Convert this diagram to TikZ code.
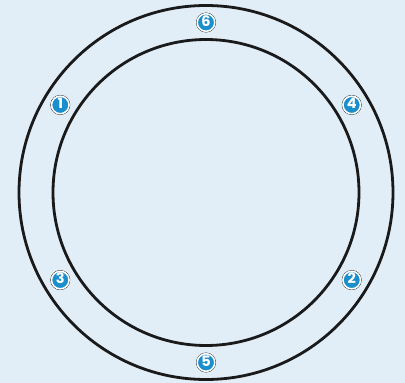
\documentclass[tikz,border=0pt]{standalone}
\usepackage{fontspec}
\setmainfont{Poppins}
\definecolor{bgblue}{HTML}{E1EEF8}
\definecolor{badgeblue}{HTML}{1A8FCB}
\definecolor{ringline}{HTML}{1A1A1A}
\begin{document}
\begin{tikzpicture}[x=1pt,y=-1pt,
  ring/.style={draw=ringline,line width=2.8pt},
  badge/.style={circle,fill=badgeblue,draw=white,line width=1.5pt,minimum size=17.5pt,inner sep=0pt,
    font=\fontsize{14.5}{14}\selectfont\bfseries,text=white,text height=0.7em,text depth=0pt,
    append after command={\pgfextra{\draw[ringline,line width=0.5pt] (\tikzlastnode.center) circle (9.7pt);}}}]
\fill[bgblue] (0,0) rectangle (405,383);
\useasboundingbox (0,0) rectangle (405,383);
\coordinate (c) at (206,192.5);
\draw[ring] (c) circle (187pt);
\draw[ring] (c) circle (153pt);
\node[badge] (b6) at ([shift={(90:170pt)}]c) {6};
\node[badge] (b1) at ([shift={(149:170pt)}]c) {1};
\node[badge] (b4) at ([shift={(31:170pt)}]c) {4};
\node[badge] (b3) at ([shift={(211:170pt)}]c) {3};
\node[badge] (b2) at ([shift={(329:170pt)}]c) {2};
\node[badge] (b5) at ([shift={(270:170pt)}]c) {5};
\end{tikzpicture}
\end{document}
